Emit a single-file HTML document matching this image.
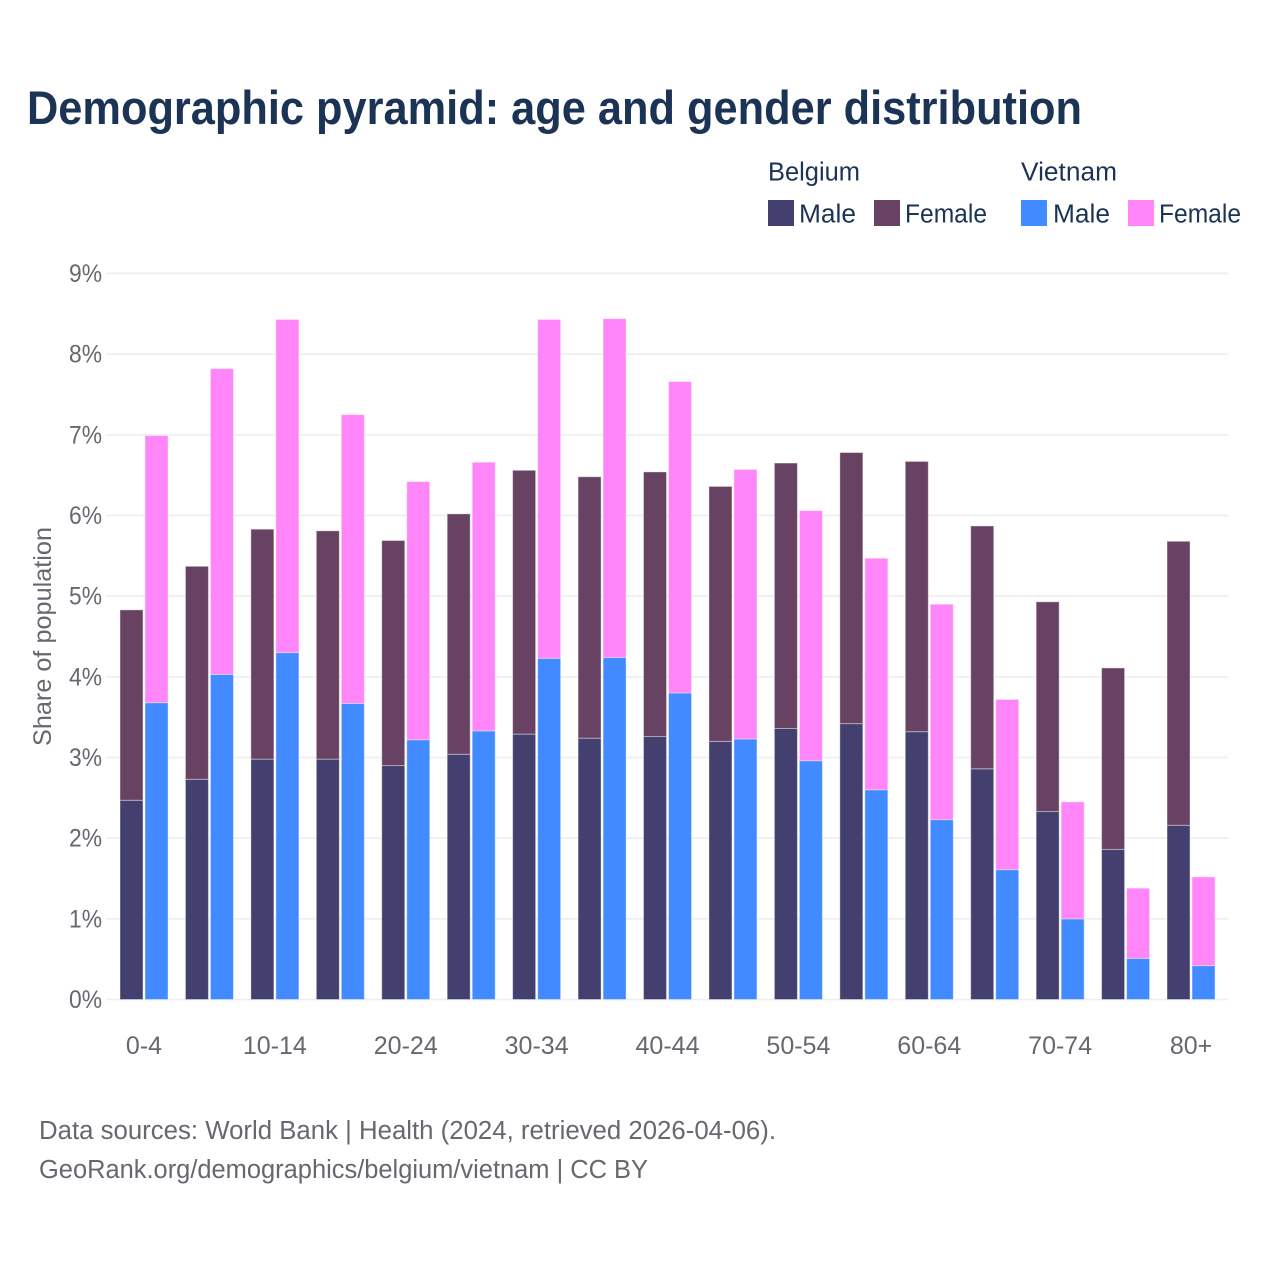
<!DOCTYPE html>
<html lang="en">
<head>
<meta charset="utf-8">
<title>Demographic pyramid</title>
<style>
html,body{margin:0;padding:0;background:#fff;}
svg{display:block;font-family:"Liberation Sans",sans-serif;}
.legend{fill:#1b3354;font-size:25.5px;}
.tick{fill:#68676f;font-size:25px;}
.foot{fill:#68676f;font-size:25.5px;}
</style>
</head>
<body>
<svg id="chart" xmlns="http://www.w3.org/2000/svg" width="1280" height="1280" viewBox="0 0 1280 1280">
  <rect x="0" y="0" width="1280" height="1280" fill="#ffffff"/>
  <text x="27" y="124" font-size="47" font-weight="700" fill="#1b3354" textLength="1055" lengthAdjust="spacingAndGlyphs">Demographic pyramid: age and gender distribution</text>

  <g>
    <text class="legend" x="768" y="180.5" textLength="92" lengthAdjust="spacingAndGlyphs">Belgium</text>
    <text class="legend" x="1021" y="180.5" textLength="96" lengthAdjust="spacingAndGlyphs">Vietnam</text>
    <rect x="768" y="200" width="26" height="26" fill="#433f6f"/>
    <text class="legend" x="799" y="222.5" textLength="57" lengthAdjust="spacingAndGlyphs">Male</text>
    <rect x="874" y="200" width="26" height="26" fill="#674262"/>
    <text class="legend" x="905" y="222.5" textLength="82" lengthAdjust="spacingAndGlyphs">Female</text>
    <rect x="1021" y="200" width="26" height="26" fill="#428aff"/>
    <text class="legend" x="1053" y="222.5" textLength="57" lengthAdjust="spacingAndGlyphs">Male</text>
    <rect x="1128" y="200" width="26" height="26" fill="#ff85f8"/>
    <text class="legend" x="1159" y="222.5" textLength="82" lengthAdjust="spacingAndGlyphs">Female</text>
  </g>

  <text class="tick" transform="translate(51 636.5) rotate(-90)" text-anchor="middle" textLength="219" lengthAdjust="spacingAndGlyphs">Share of population</text>

  <g id="grid"></g>
  <g id="bars"></g>
  <g id="yticks"></g>
  <g id="xticks"></g>

  <text class="foot" x="39" y="1139" textLength="737" lengthAdjust="spacingAndGlyphs">Data sources: World Bank | Health (2024, retrieved 2026-04-06).</text>
  <text class="foot" x="39" y="1178" textLength="609" lengthAdjust="spacingAndGlyphs">GeoRank.org/demographics/belgium/vietnam | CC BY</text>
</svg>
<script>
const ageGroups = ["0-4","5-9","10-14","15-19","20-24","25-29","30-34","35-39","40-44","45-49","50-54","55-59","60-64","65-69","70-74","75-79","80+"];
const belgiumMale = [2.47,2.73,2.98,2.98,2.90,3.04,3.29,3.24,3.26,3.20,3.36,3.42,3.32,2.86,2.33,1.86,2.16];
const belgiumFemale = [2.36,2.64,2.85,2.83,2.79,2.98,3.27,3.24,3.28,3.16,3.29,3.36,3.35,3.01,2.60,2.25,3.52];
const vietnamMale = [3.68,4.03,4.30,3.67,3.22,3.33,4.23,4.24,3.80,3.23,2.96,2.60,2.23,1.61,1.00,0.51,0.42];
const vietnamFemale = [3.31,3.79,4.13,3.58,3.20,3.33,4.20,4.20,3.86,3.34,3.10,2.87,2.67,2.11,1.45,0.87,1.10];
const yTicks = [0,1,2,3,4,5,6,7,8,9];
const xTickLabels = ["0-4","10-14","20-24","30-34","40-44","50-54","60-64","70-74","80+"];

const NS = "http://www.w3.org/2000/svg";
const plotLeft = 106, plotRight = 1228;
const y0 = 999.5, yPerUnit = 80.67;
const groupStart = 144, groupStep = 65.44;
const barWidth = 23, barGap = 1;

function yScale(v){ return y0 - v * yPerUnit; }
function xCenter(i){ return groupStart + i * groupStep; }

const gridG = document.getElementById("grid");
const yG = document.getElementById("yticks");
yTicks.forEach(function(t){
  const line = document.createElementNS(NS, "line");
  
  
  line.setAttribute("x1", plotLeft);
  line.setAttribute("x2", plotRight);
  line.setAttribute("y1", yScale(t));
  line.setAttribute("y2", yScale(t));
  line.setAttribute("stroke", "#eeeeef");
  line.setAttribute("stroke-width", "1.6");
  gridG.appendChild(line);

  const label = document.createElementNS(NS, "text");
  
  
  label.setAttribute("class", "tick");
  label.setAttribute("x", 102);
  label.setAttribute("y", yScale(t) + 8.5);
  label.setAttribute("text-anchor", "end");
  label.setAttribute("textLength", "33");
  label.setAttribute("lengthAdjust", "spacingAndGlyphs");
  label.textContent = t + "%";
  yG.appendChild(label);
});

const barsG = document.getElementById("bars");
function addBar(x, base, val, fill, name){
  const r = document.createElementNS(NS, "rect");
  
  
  r.setAttribute("x", x);
  r.setAttribute("y", yScale(base + val));
  r.setAttribute("width", barWidth);
  r.setAttribute("height", val * yPerUnit);
  r.setAttribute("fill", fill);
  r.setAttribute("stroke", "#ffffff");
  r.setAttribute("stroke-opacity", "0.4");
  r.setAttribute("stroke-width", "1");
  barsG.appendChild(r);
}
ageGroups.forEach(function(age, i){
  const c = xCenter(i);
  const bx = c - barWidth - barGap;
  const vx = c + barGap;
  addBar(bx, 0, belgiumMale[i], "#433f6f", "bar-belgium-male");
  addBar(bx, belgiumMale[i], belgiumFemale[i], "#674262", "bar-belgium-female");
  addBar(vx, 0, vietnamMale[i], "#428aff", "bar-vietnam-male");
  addBar(vx, vietnamMale[i], vietnamFemale[i], "#ff85f8", "bar-vietnam-female");
});

const xG = document.getElementById("xticks");
xTickLabels.forEach(function(lbl){
  const i = ageGroups.indexOf(lbl);
  const t = document.createElementNS(NS, "text");
  
  
  t.setAttribute("class", "tick");
  t.setAttribute("x", xCenter(i));
  t.setAttribute("y", 1054);
  t.setAttribute("text-anchor", "middle");
  t.textContent = lbl;
  xG.appendChild(t);
});
</script>
</body>
</html>
